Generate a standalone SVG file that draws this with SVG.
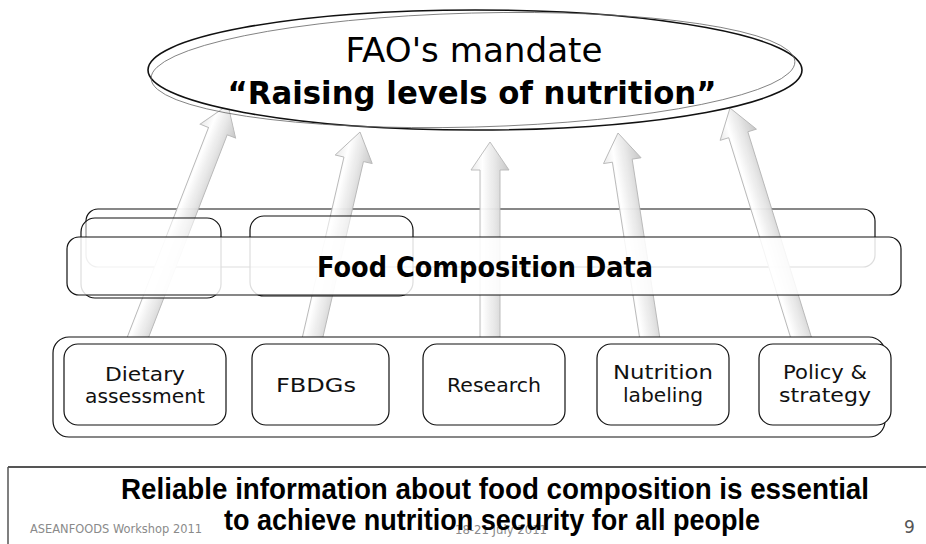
<svg xmlns="http://www.w3.org/2000/svg" width="926" height="544" viewBox="0 0 926 544">
<defs>
<linearGradient id="ag" x1="0" y1="0" x2="1" y2="0">
<stop offset="0" stop-color="#e9e9e9"/>
<stop offset="0.3" stop-color="#ffffff"/>
<stop offset="0.65" stop-color="#e4e4e4"/>
<stop offset="1" stop-color="#c4c4c4"/>
</linearGradient>
<style>
.box{fill:#fff;stroke:#111;stroke-width:1.2}
.ghost{fill:#fff;fill-opacity:0.55;stroke:#111;stroke-width:1.2}
.front{fill:#fff;fill-opacity:0.86;stroke:#111;stroke-width:1.2}
.arrow{fill:url(#ag);stroke:#b4b4b4;stroke-width:0.9;opacity:0.95}
.lbl{font-family:"DejaVu Sans",sans-serif;font-size:20px;fill:#111;text-anchor:middle}
.foot{font-family:"DejaVu Sans",sans-serif;font-size:12px;fill:#8a8a8a}
.main{font-family:"Liberation Sans",Arial,sans-serif;font-weight:bold;font-size:29px;fill:#000;text-anchor:middle}
</style>
</defs>
<rect width="926" height="544" fill="#fff"/>

<g id="fcd-back">
<rect class="ghost" x="86" y="209" width="789" height="58" rx="12"/>
</g>

<g id="connectors">
<path class="arrow" transform="translate(228,105) rotate(21.2)" d="M0,0 L19,28 L10,28 L10,257 L-10,257 L-10,28 L-19,28 Z"/>
<path class="arrow" transform="translate(360,132) rotate(13)" d="M0,0 L19,28 L10,28 L10,213 L-10,213 L-10,28 L-19,28 Z"/>
<path class="arrow" transform="translate(490,142)" d="M0,0 L19,28 L10,28 L10,200 L-10,200 L-10,28 L-19,28 Z"/>
<path class="arrow" transform="translate(618,133) rotate(-8.8)" d="M0,0 L19,28 L10,28 L10,210 L-10,210 L-10,28 L-19,28 Z"/>
<path class="arrow" transform="translate(730,108) rotate(-17.2)" d="M0,0 L19,28 L10,28 L10,243 L-10,243 L-10,28 L-19,28 Z"/>
</g>

<g id="fcd-box-a"><rect class="ghost" x="81" y="218" width="140" height="80" rx="14"/></g>
<g id="fcd-box-b"><rect class="ghost" x="250" y="216" width="163" height="80" rx="14"/></g>

<g id="fcd">
<rect class="front" x="67" y="237" width="834" height="58" rx="12"/>
<text x="485" y="277" font-family="DejaVu Sans,sans-serif" font-weight="bold" font-size="28" text-anchor="middle" textLength="336" lengthAdjust="spacingAndGlyphs">Food Composition Data</text>
</g>

<g id="uses">
<rect class="box" x="53" y="337" width="832" height="100" rx="16" stroke="#333" stroke-width="1.6"/>
</g>

<g id="dietary">
<rect class="box" x="64" y="344" width="162" height="81" rx="14"/>
<text class="lbl" x="145" y="381" textLength="80" lengthAdjust="spacingAndGlyphs">Dietary</text>
<text class="lbl" x="145" y="403" textLength="120" lengthAdjust="spacingAndGlyphs">assessment</text>
</g>
<g id="fbdgs">
<rect class="box" x="252" y="344" width="137" height="81" rx="14"/>
<text class="lbl" x="316" y="392" textLength="80" lengthAdjust="spacingAndGlyphs">FBDGs</text>
</g>
<g id="research">
<rect class="box" x="423" y="344" width="142" height="81" rx="14"/>
<text class="lbl" x="494" y="392" textLength="94" lengthAdjust="spacingAndGlyphs">Research</text>
</g>
<g id="nutrition">
<rect class="box" x="597" y="344" width="132" height="81" rx="14"/>
<text class="lbl" x="663" y="379" textLength="100" lengthAdjust="spacingAndGlyphs">Nutrition</text>
<text class="lbl" x="663" y="402" textLength="80" lengthAdjust="spacingAndGlyphs">labeling</text>
</g>
<g id="policy">
<rect class="box" x="759" y="344" width="132" height="81" rx="14"/>
<text class="lbl" x="825" y="379" textLength="84" lengthAdjust="spacingAndGlyphs">Policy &amp;</text>
<text class="lbl" x="825" y="402" textLength="92" lengthAdjust="spacingAndGlyphs">strategy</text>
</g>

<g id="mandate">
<ellipse cx="475" cy="70" rx="327" ry="60" fill="#fff" stroke="#111" stroke-width="1.6"/>
<ellipse cx="473" cy="70" rx="322" ry="57" fill="none" stroke="#666" stroke-width="0.8" transform="rotate(-1.5 475 70)"/>
<text x="474" y="62" font-family="DejaVu Sans,sans-serif" font-size="33" text-anchor="middle" textLength="257" lengthAdjust="spacingAndGlyphs">FAO's mandate</text>
<text x="472" y="104" font-family="DejaVu Sans,sans-serif" font-weight="bold" font-size="32" text-anchor="middle" textLength="489" lengthAdjust="spacingAndGlyphs">“Raising levels of nutrition”</text>
</g>

<g id="footer">
<line x1="8" y1="467" x2="926" y2="467" stroke="#555" stroke-width="2"/>
<line x1="8" y1="467" x2="8" y2="544" stroke="#555" stroke-width="1.5"/>
<text class="foot" x="30" y="533" textLength="172" lengthAdjust="spacingAndGlyphs">ASEANFOODS Workshop 2011</text>
<text class="foot" x="455" y="534" textLength="92" lengthAdjust="spacingAndGlyphs">18-21 July 2011</text>
<text x="904" y="533" font-family="DejaVu Sans,sans-serif" font-size="17" fill="#555">9</text>
<text class="main" x="495" y="499" textLength="748" lengthAdjust="spacingAndGlyphs">Reliable information about food composition is essential</text>
<text class="main" x="492" y="530" textLength="536" lengthAdjust="spacingAndGlyphs">to achieve nutrition security for all people</text>
</g>
</svg>
